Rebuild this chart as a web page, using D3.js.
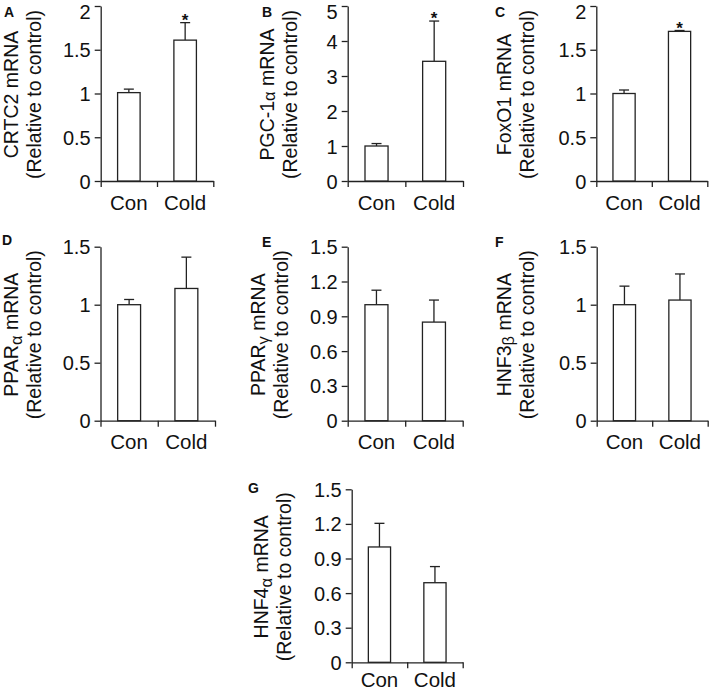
<!DOCTYPE html>
<html>
<head>
<meta charset="utf-8">
<script src="https://cdn.jsdelivr.net/npm/d3@7"></script>
<style>
  html, body { margin: 0; padding: 0; background: #fff; }
  svg { display: block; font-family: Arial, "Liberation Sans", sans-serif; }
</style>
</head>
<body>
<svg id="chart" width="709" height="692"></svg>
<script>
// ---------------- data ----------------
const categories = ["Con", "Cold"];
const panelLetters = ["A", "B", "C", "D", "E", "F", "G"];
const geneNames = ["CRTC2", "PGC-1", "FoxO1", "PPAR", "PPAR", "HNF3", "HNF4"];
const geneGreek = ["", "α", "", "α", "γ", "β", "α"];
const greekShift = [0, 1.5, 0, 4, 4, 3, 4];
const meanValues = [
  [1.01, 1.61],
  [1.00, 3.42],
  [1.00, 1.71],
  [1.00, 1.14],
  [1.00, 0.85],
  [1.00, 1.04],
  [1.00, 0.69]
];
const errorValues = [
  [0.04, 0.20],
  [0.07, 1.15],
  [0.04, 0.01],
  [0.045, 0.27],
  [0.125, 0.19],
  [0.16, 0.225],
  [0.205, 0.14]
];
const significant = [
  [false, true],
  [false, true],
  [false, true],
  [false, false],
  [false, false],
  [false, false],
  [false, false]
];
const yMaxValues = [2, 5, 2, 1.5, 1.5, 1.5, 1.5];
const tickLabels = [
  ["0", "0.5", "1", "1.5", "2"],
  ["0", "1", "2", "3", "4", "5"],
  ["0", "0.5", "1", "1.5", "2"],
  ["0", "0.5", "1", "1.5"],
  ["0", "0.3", "0.6", "0.9", "1.2", "1.5"],
  ["0", "0.5", "1", "1.5"],
  ["0", "0.3", "0.6", "0.9", "1.2", "1.5"]
];
const yLabelSub = "(Relative to control)";

// ---------------- layout (positions only) ----------------
const layout = [
  { left: 100.7, width: 112.6, top: 6,     bottom: 181,   labelGap: 59.5, letterX: 4,   letterY: 17 },
  { left: 347.7, width: 115.3, top: 6,     bottom: 181,   labelGap: 51,   letterX: 262, letterY: 17 },
  { left: 596.3, width: 111,   top: 6,     bottom: 181,   labelGap: 62.5, letterX: 495, letterY: 17 },
  { left: 100.5, width: 114.5, top: 246.7, bottom: 420.7, labelGap: 59.5, letterX: 2,   letterY: 245 },
  { left: 347.7, width: 115,   top: 246.7, bottom: 420.7, labelGap: 60,   letterX: 262, letterY: 247 },
  { left: 596.7, width: 111,   top: 246.7, bottom: 420.7, labelGap: 63,   letterX: 495, letterY: 247 },
  { left: 351.7, width: 111,   top: 489.3, bottom: 662.3, labelGap: 61,   letterX: 248, letterY: 493 }
];

const ink = "#222";
const svg = d3.select("#chart");

panelLetters.forEach((letter, i) => {
  const L = layout[i];
  const g = svg.append("g");

  const y = d3.scaleLinear().domain([0, yMaxValues[i]]).range([L.bottom, L.top]);
  const x = d3.scaleBand().domain(categories)
    .range([L.left, L.left + L.width])
    .paddingInner(0.6).paddingOuter(0.3);
  const xAxisScale = d3.scaleLinear().domain([0, categories.length])
    .range([L.left, L.left + L.width]);

  // y axis
  const yAxis = d3.axisLeft(y)
    .tickValues(tickLabels[i].map(Number))
    .tickFormat((d, k) => tickLabels[i][k])
    .tickSizeInner(6).tickSizeOuter(0).tickPadding(4);
  const ya = g.append("g").attr("transform", `translate(${L.left},0)`).call(yAxis);
  ya.select(".domain").attr("stroke", ink).attr("stroke-width", 1.3);
  ya.selectAll(".tick line").attr("stroke", ink).attr("stroke-width", 1.3);
  ya.selectAll(".tick text").attr("fill", "#111").attr("font-size", 20)
    .attr("font-family", "Arial, 'Liberation Sans', sans-serif")
    .attr("dy", d => (y(d) < 12 ? "0.6em" : "0.35em"));

  // x axis
  const xAxis = d3.axisBottom(xAxisScale)
    .tickValues(d3.range(categories.length + 1))
    .tickFormat("").tickSizeInner(6).tickSizeOuter(0);
  const xa = g.append("g").attr("transform", `translate(0,${L.bottom})`).call(xAxis);
  xa.select(".domain").attr("stroke", ink).attr("stroke-width", 1.3);
  xa.selectAll(".tick line").attr("stroke", ink).attr("stroke-width", 1.3);

  // category labels
  g.selectAll(".cat").data(categories).join("text")
    .attr("x", d => x(d) + x.bandwidth() / 2)
    .attr("y", Math.min(L.bottom + 28.5, 687))
    .attr("text-anchor", "middle")
    .attr("font-size", 20.5)
    .attr("fill", "#111")
    .text(d => d);

  const rows = categories.map((c, k) => ({
    cat: c, v: meanValues[i][k], e: errorValues[i][k], sig: significant[i][k]
  }));

  // error bars (upper only)
  const cx = d => x(d.cat) + x.bandwidth() / 2;
  g.selectAll(".err").data(rows).join("line")
    .attr("x1", cx).attr("x2", cx)
    .attr("y1", d => y(d.v)).attr("y2", d => y(d.v + d.e))
    .attr("stroke", ink).attr("stroke-width", 1.3);
  g.selectAll(".cap").data(rows).join("line")
    .attr("x1", d => cx(d) - 5).attr("x2", d => cx(d) + 5)
    .attr("y1", d => y(d.v + d.e)).attr("y2", d => y(d.v + d.e))
    .attr("stroke", ink).attr("stroke-width", 1.3);

  // bars
  g.selectAll(".bar").data(rows).join("rect")
    .attr("x", d => x(d.cat))
    .attr("y", d => y(d.v))
    .attr("width", x.bandwidth())
    .attr("height", d => y(0) - y(d.v))
    .attr("fill", "#fff")
    .attr("stroke", ink).attr("stroke-width", 1.3);

  // significance stars
  g.selectAll(".star").data(rows.filter(d => d.sig)).join("text")
    .attr("x", cx)
    .attr("y", d => y(d.v + d.e) + 3)
    .attr("text-anchor", "middle")
    .attr("font-size", 17)
    .attr("font-weight", "bold")
    .attr("fill", "#111")
    .text("*");

  // y axis label (two lines, rotated)
  const midY = (L.top + L.bottom) / 2 + 1;
  const lab = g.append("text")
    .attr("transform", `translate(${L.left - L.labelGap},${midY}) rotate(-90)`)
    .attr("text-anchor", "middle")
    .attr("font-size", 19.5)
    .attr("fill", "#111");
  const line1 = lab.append("tspan").attr("x", 0).attr("y", -23);
  line1.append("tspan").text(geneNames[i]);
  if (geneGreek[i]) {
    line1.append("tspan").attr("dy", greekShift[i]).attr("font-size", 16.5).text(geneGreek[i]);
    line1.append("tspan").attr("dy", -greekShift[i]).text(" mRNA");
  } else {
    line1.append("tspan").text(" mRNA");
  }
  lab.append("tspan").attr("x", 0).attr("y", 0).text(yLabelSub);

  // panel letter
  g.append("text")
    .attr("x", L.letterX).attr("y", L.letterY)
    .attr("font-size", 14).attr("font-weight", "bold")
    .attr("fill", "#111")
    .text(letter);
});
</script>
</body>
</html>
